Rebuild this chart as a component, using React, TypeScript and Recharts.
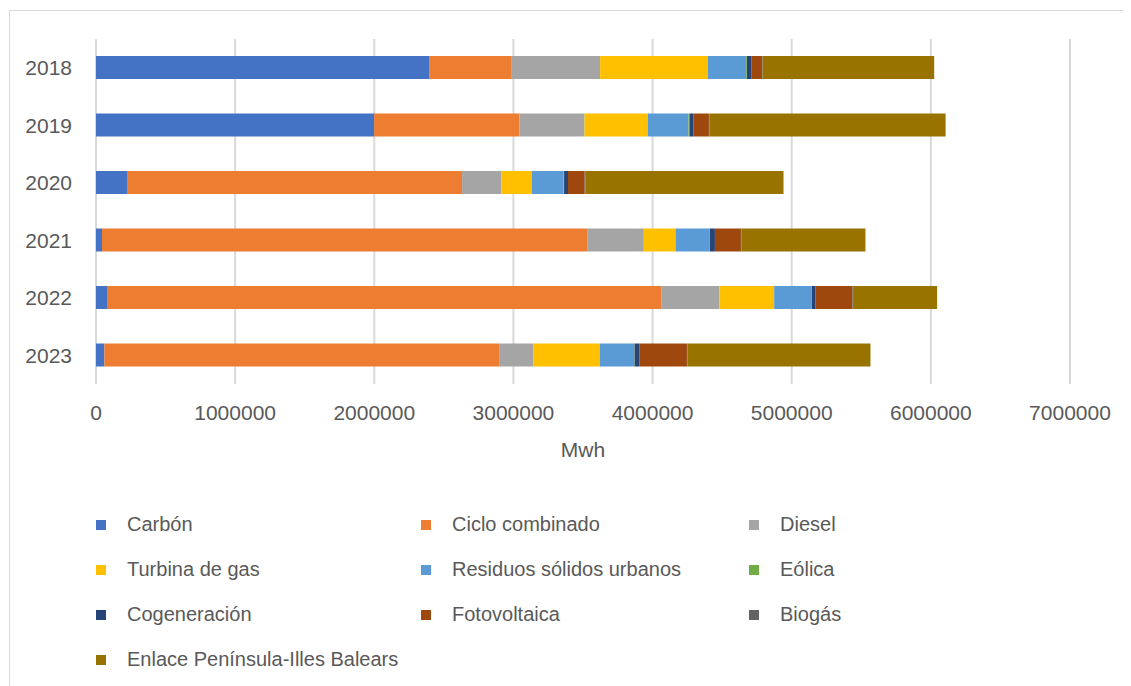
import { Bar, BarChart, CartesianGrid, Label, Legend, XAxis, YAxis } from "recharts";

const years = ["2018", "2019", "2020", "2021", "2022", "2023"];
const carbon = [2394000, 1999000, 223000, 43000, 79000, 60000];
const cicloCombinado = [589000, 1044000, 2408000, 3487000, 3983000, 2837000];
const diesel = [640000, 468000, 283000, 407000, 417000, 245000];
const turbinaGas = [774000, 455000, 218000, 228000, 395000, 479000];
const residuos = [276000, 292000, 228000, 242000, 266000, 247000];
const eolica = [5000, 7000, 4000, 4000, 4000, 3000];
const cogeneracion = [34000, 30000, 28000, 37000, 25000, 33000];
const fotovoltaica = [75000, 110000, 120000, 187000, 268000, 343000];
const biogas = [4000, 4000, 4000, 4000, 4000, 4000];
const enlace = [1233000, 1697000, 1425000, 891000, 604000, 1315000];
const xTicks = [0, 1000000, 2000000, 3000000, 4000000, 5000000, 6000000, 7000000];

const series = [
  { key: "carbon", name: "Carbón", color: "#4472C4", values: carbon },
  { key: "ciclo", name: "Ciclo combinado", color: "#ED7D31", values: cicloCombinado },
  { key: "diesel", name: "Diesel", color: "#A5A5A5", values: diesel },
  { key: "turbina", name: "Turbina de gas", color: "#FFC000", values: turbinaGas },
  { key: "residuos", name: "Residuos sólidos urbanos", color: "#5B9BD5", values: residuos },
  { key: "eolica", name: "Eólica", color: "#70AD47", values: eolica },
  { key: "cogen", name: "Cogeneración", color: "#264478", values: cogeneracion },
  { key: "foto", name: "Fotovoltaica", color: "#9E480E", values: fotovoltaica },
  { key: "biogas", name: "Biogás", color: "#636363", values: biogas },
  { key: "enlace", name: "Enlace Península-Illes Balears", color: "#997300", values: enlace },
];

const data = years.map((year, i) => {
  const row: Record<string, string | number> = { year };
  series.forEach((s) => {
    row[s.key] = s.values[i];
  });
  return row;
});

const FONT = "'Liberation Sans', Arial, sans-serif";
const TEXT = "#595959";

// keep the series order (recharts sorts the payload by name)
function GridLegend() {
  return (
    <div
      style={{
        display: "grid",
        gridTemplateColumns: "325px 328px 300px",
        gridAutoRows: "45px",
        fontFamily: FONT,
        fontSize: 20,
        color: TEXT,
        whiteSpace: "nowrap",
      }}
    >
      {series.map((s) => (
        <div key={s.key} style={{ display: "flex", alignItems: "center" }}>
          <span style={{ width: 10, height: 10, background: s.color, marginRight: 21 }} />
          <span>{s.name}</span>
        </div>
      ))}
    </div>
  );
}

export default function App() {
  return (
    <div style={{ position: "relative", width: 1123, height: 678, overflow: "hidden" }}>
      <div
        style={{
          position: "absolute",
          left: 1,
          top: 2,
          right: 0,
          bottom: 0,
          borderLeft: "1px solid #d9d9d9",
          borderTop: "1px solid #d9d9d9",
        }}
      />
      <BarChart
        layout="vertical"
        width={1123}
        height={678}
        data={data}
        barSize={23}
        margin={{ top: 31, right: 61, left: 0, bottom: 252 }}
        style={{ fontFamily: FONT }}
      >
        <CartesianGrid horizontal={false} stroke="#d9d9d9" strokeWidth={2} />
        <XAxis
          type="number"
          domain={[0, 7000000]}
          ticks={xTicks}
          interval={0}
          axisLine={false}
          tickLine={false}
          tickSize={0}
          tickMargin={21}
          height={50}
          tick={{ fill: TEXT, fontSize: 21 }}
        >
          <Label value="Mwh" position="bottom" offset={8} fill={TEXT} fontSize={21} />
        </XAxis>
        <YAxis
          type="category"
          dataKey="year"
          width={88}
          axisLine={false}
          tickLine={false}
          tickSize={0}
          tickMargin={24}
          tick={{ fill: TEXT, fontSize: 21 }}
        />
        <Legend
          layout="horizontal"
          verticalAlign="middle"
          align="center"
          content={<GridLegend />}
          wrapperStyle={{ position: "absolute", left: 88, top: 494, width: 960 }}
        />
        {series.map((s) => (
          <Bar
            key={s.key}
            dataKey={s.key}
            name={s.name}
            stackId="a"
            fill={s.color}
            isAnimationActive={false}
          />
        ))}
      </BarChart>
    </div>
  );
}
